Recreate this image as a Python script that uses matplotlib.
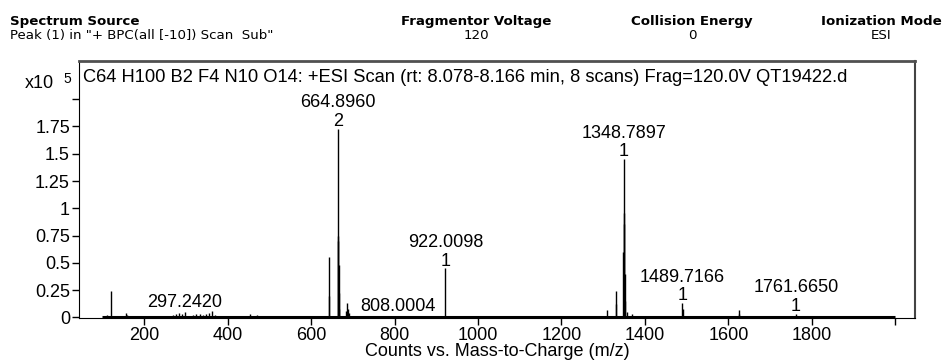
import matplotlib
matplotlib.use('Agg')
import matplotlib.pyplot as plt

# peak list: m/z and counts (x10^5)
mz = [110.0, 121.0509, 128.0, 157.0, 160.0, 185.0, 230.0, 270.0, 277.0, 283.0,
      291.0, 297.2420, 302.0, 318.0, 325.0, 333.0, 340.0, 348.0, 356.0, 363.0,
      371.0, 406.0, 425.0, 454.0, 470.0, 542.0, 560.0, 590.0,
      642.9, 643.4, 664.40, 664.8960, 665.40, 665.90, 666.40, 666.90,
      684.0, 686.9, 687.4, 690.0, 700.0, 740.0, 808.0004, 850.0,
      922.0098, 940.0, 1000.0, 1150.0,
      1309.0, 1330.8, 1331.8, 1347.79, 1348.7897, 1349.79, 1350.79, 1351.79,
      1352.8, 1356.0, 1370.0, 1400.0, 1440.0, 1489.7166, 1490.7, 1625.0,
      1626.0, 1761.6650, 1900.0]
counts = [0.02, 0.24, 0.015, 0.04, 0.02, 0.01, 0.012, 0.02, 0.035, 0.045,
          0.03, 0.05, 0.015, 0.02, 0.03, 0.035, 0.025, 0.03, 0.04, 0.055,
          0.02, 0.01, 0.01, 0.03, 0.02, 0.012, 0.01, 0.008,
          0.55, 0.20, 0.70, 1.73, 0.75, 0.48, 0.22, 0.08,
          0.06, 0.13, 0.08, 0.04, 0.01, 0.008, 0.012, 0.006,
          0.45, 0.015, 0.005, 0.005,
          0.07, 0.24, 0.12, 0.60, 1.45, 0.96, 0.86, 0.40,
          0.15, 0.05, 0.03, 0.01, 0.012, 0.13, 0.08, 0.065,
          0.03, 0.035, 0.008]

# labelled peaks: m/z text and charge state ('' = none shown)
label_mz = [297.2420, 664.8960, 808.0004, 922.0098, 1348.7897, 1489.7166, 1761.6650]
label_z = ['', '2', '', '1', '1', '1', '1']

scan_range = [100, 2000]
xticks = [200, 400, 600, 800, 1000, 1200, 1400, 1600, 1800, 2000]
yticks = [0, 0.25, 0.5, 0.75, 1, 1.25, 1.5, 1.75, 2.0]
ytick_labels = ['0', '0.25', '0.5', '0.75', '1', '1.25', '1.5', '1.75', '']

title = ('C64 H100 B2 F4 N10 O14: +ESI Scan (rt: 8.078-8.166 min, 8 scans) '
         'Frag=120.0V QT19422.d')

header = [('Spectrum Source', 'Peak (1) in "+ BPC(all [-10]) Scan  Sub"', 'left', 10),
          ('Fragmentor Voltage', '120', 'center', 476),
          ('Collision Energy', '0', 'center', 692),
          ('Ionization Mode', 'ESI', 'center', 881)]

W, H = 953, 360
FS = 13
fig = plt.figure(figsize=(W / 100, H / 100), dpi=100)
ax = fig.add_axes([79 / W, 1 - 318 / H, (915 - 79) / W, (318 - 61) / H])

arial = 'Liberation Sans'
plt.rcParams['font.family'] = arial

ax.vlines(mz, 0, counts, color='black', lw=1.0)
ax.hlines(0, scan_range[0], scan_range[1], color='black', lw=2.2)

ax.set_xlim(44, 2047)
ax.set_ylim(-0.005, 2.35)
ax.set_xticks(xticks)
ax.set_xticklabels([str(t) if t < 2000 else '' for t in xticks])
ax.set_yticks(yticks)
ax.set_yticklabels(ytick_labels)
ax.tick_params(axis='both', direction='out', length=5, width=1, labelsize=FS,
               color='black')
ax.tick_params(axis='x', pad=1.5)
ax.tick_params(axis='y', pad=1.5)
for lab in ax.get_xticklabels() + ax.get_yticklabels():
    lab.set_fontfamily(arial)

ax.spines['top'].set_color('#505050')
ax.spines['top'].set_linewidth(2)
ax.spines['right'].set_color('#444444')
ax.spines['right'].set_linewidth(1.5)
ax.spines['left'].set_color('black')
ax.spines['bottom'].set_color('black')

ax.set_xlabel('Counts vs. Mass-to-Charge (m/z)', fontsize=FS, family=arial,
              labelpad=-1)

ax.text(0.005, 0.918, title, transform=ax.transAxes, fontsize=13.2,
        family=arial, va='baseline', ha='left')

# peak annotations
for m, z in zip(label_mz, label_z):
    h = counts[mz.index(m)]
    if z:
        ax.annotate(z, (m, h), xytext=(0, 2), textcoords='offset points',
                    ha='center', va='baseline', fontsize=FS, family=arial)
        ax.annotate('%.4f' % m, (m, h), xytext=(0, 15.5), textcoords='offset points',
                    ha='center', va='baseline', fontsize=FS, family=arial)
    else:
        ax.annotate('%.4f' % m, (m, h), xytext=(0, 3.5), textcoords='offset points',
                    ha='center', va='baseline', fontsize=FS, family=arial)

# exponent label
fig.text(25 / W, 1 - 88 / H, 'x10', fontsize=FS, family=arial, va='baseline')
fig.text(63 / W, 1 - 83 / H, '5', fontsize=10, family=arial, va='baseline')

# header block
for name, value, ha, x in header:
    fig.text(x / W, 1 - 25 / H, name, fontsize=9.6, fontweight='bold',
             family='DejaVu Sans', ha=ha, va='baseline')
    fig.text(x / W, 1 - 39 / H, value, fontsize=9.6,
             family='DejaVu Sans', ha=ha, va='baseline')

fig.savefig('out.png', dpi=100)
